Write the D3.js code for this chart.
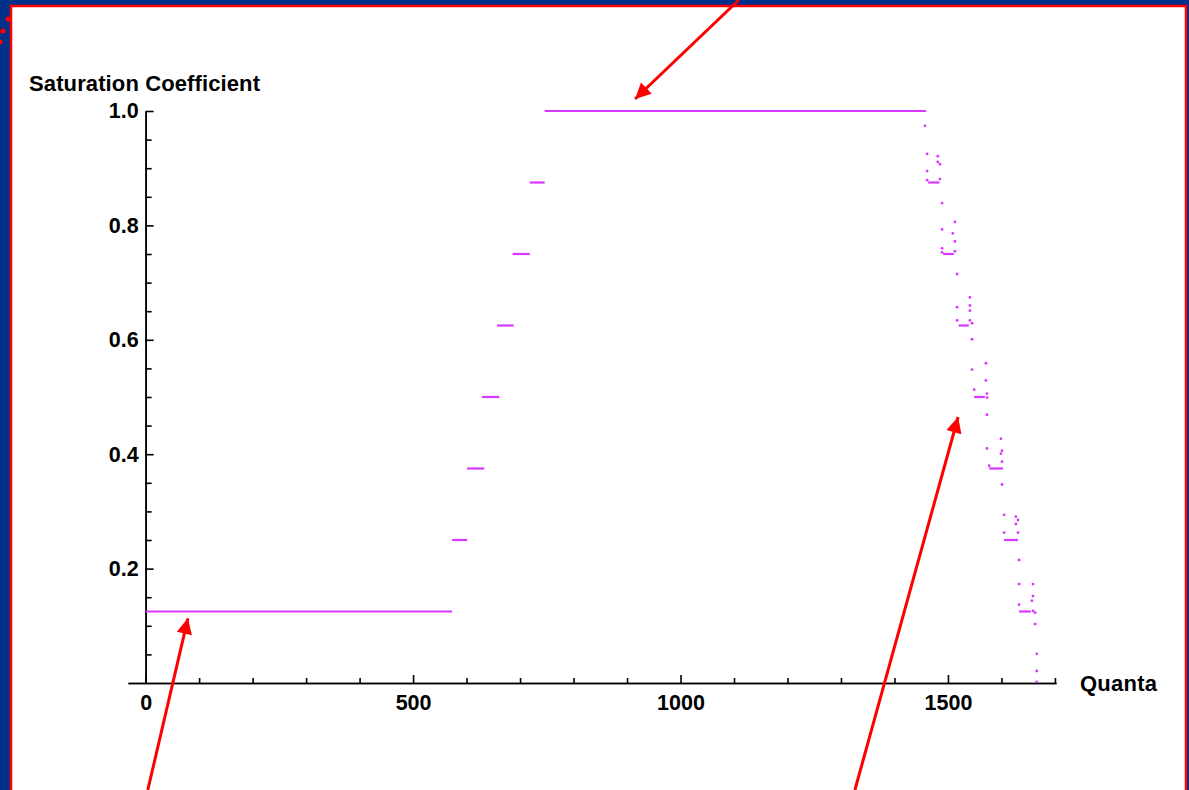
<!DOCTYPE html>
<html>
<head>
<meta charset="utf-8">
<script src="https://cdn.jsdelivr.net/npm/d3@7"></script>
<style>
  html, body { margin: 0; padding: 0; background: #00308a; overflow: hidden; }
  text { font-family: "Liberation Sans", Arial, sans-serif; font-weight: bold; }
</style>
</head>
<body>
<div id="chart"></div>
<script>
// step levels of the rising part (plotted as flat runs)
var stepLevels = [0.125, 0.25, 0.375, 0.5, 0.625, 0.75, 0.875, 1.0];
var stepStart  = [0, 573, 601, 629, 657, 686, 718, 746];
var stepEnd    = [573, 601, 633, 661, 688, 718, 746, 1459];

// short runs in the falling part
var fallLevels = [0.875, 0.75, 0.625, 0.5, 0.375, 0.25, 0.125];
var fallStart  = [1463, 1491, 1520, 1549, 1577, 1605, 1633];
var fallEnd    = [1484, 1511, 1539, 1569, 1603, 1631, 1655];

// scattered points of the falling part
var dotX = [1457, 1461, 1481, 1481, 1485, 1461, 1461, 1485, 1489, 1513, 1489, 1509, 1513, 1489, 1489, 1513,
            1517, 1541, 1517, 1541, 1541, 1517, 1541, 1545, 1545, 1571, 1545, 1571, 1549, 1573, 1573, 1573,
            1599, 1573, 1601, 1599, 1601, 1577, 1601, 1605, 1627, 1631, 1627, 1605, 1631, 1633, 1633, 1659,
            1659, 1657, 1633, 1659, 1663, 1663, 1666, 1666, 1666];
var dotY = [0.974, 0.925, 0.921, 0.911, 0.907, 0.895, 0.879, 0.881, 0.839, 0.806, 0.793, 0.786, 0.772, 0.760, 0.753, 0.755,
            0.715, 0.674, 0.657, 0.660, 0.651, 0.634, 0.634, 0.629, 0.601, 0.559, 0.548, 0.529, 0.513, 0.506, 0.499, 0.469,
            0.427, 0.410, 0.406, 0.401, 0.387, 0.380, 0.347, 0.294, 0.291, 0.285, 0.278, 0.263, 0.263, 0.215, 0.173, 0.173,
            0.152, 0.144, 0.137, 0.126, 0.123, 0.103, 0.051, 0.021, 0.002];

var xMajor = [0, 500, 1000, 1500];
var xMinor = [100, 200, 300, 400, 600, 700, 800, 900, 1100, 1200, 1300, 1400, 1600, 1700];
var yMajor = [0.2, 0.4, 0.6, 0.8, 1.0];
var yMinor = [0.05, 0.1, 0.15, 0.25, 0.3, 0.35, 0.45, 0.5, 0.55, 0.65, 0.7, 0.75, 0.85, 0.9, 0.95];

// red annotation arrows, [tailX, tailY, headX, headY] in data units
var arrows = [
  [1109, 1.194, 915, 1.021],
  [4, -0.187, 79, 0.113],
  [1326, -0.187, 1519, 0.465]
];

var W = 1189, H = 790;
var svg = d3.select("#chart").append("svg")
  .attr("width", W)
  .attr("height", H);

// slide panel
svg.append("rect")
  .attr("x", 11).attr("y", 6)
  .attr("width", 1175).attr("height", 820)
  .attr("fill", "white")
  .attr("stroke", "#ff0000")
  .attr("stroke-width", 2.5);
[[8, 19], [3, 31], [0, 42]].forEach(function (p) {
  svg.append("circle").attr("cx", p[0]).attr("cy", p[1]).attr("r", 2.6).attr("fill", "#ff0000");
});

var x = d3.scaleLinear().domain([-33, 1702]).range([128, 1056]);
var y = d3.scaleLinear().domain([0, 1]).range([683, 111]);

var magenta = "#d936ff";

// minor ticks
svg.append("g")
  .attr("transform", "translate(0," + y(0) + ")")
  .call(d3.axisBottom(x).tickValues(xMinor).tickSizeInner(-5).tickSizeOuter(0).tickFormat(""));
svg.append("g")
  .attr("transform", "translate(" + x(0) + ",0)")
  .call(d3.axisLeft(y).tickValues(yMinor).tickSizeInner(-6).tickSizeOuter(0).tickFormat(""));

// major ticks + labels
svg.append("g")
  .attr("class", "xaxis")
  .attr("transform", "translate(0," + y(0) + ")")
  .call(d3.axisBottom(x).tickValues(xMajor).tickSizeInner(-8).tickSizeOuter(0).tickPadding(12).tickFormat(d3.format("d")));
svg.append("g")
  .attr("class", "yaxis")
  .attr("transform", "translate(" + x(0) + ",0)")
  .call(d3.axisLeft(y).tickValues(yMajor).tickSizeInner(-8).tickSizeOuter(0).tickPadding(7).tickFormat(d3.format(".1f")));

svg.selectAll(".domain, .tick line").attr("stroke", "black").attr("stroke-width", 1.6);
svg.selectAll(".tick text").attr("font-size", 21.5).attr("fill", "black")
  .style("font-family", "'Liberation Sans', Arial, sans-serif").style("font-weight", "bold");

// axis titles
svg.append("text")
  .attr("x", 29).attr("y", 83).attr("dy", "0.35em")
  .attr("font-size", 22)
  .attr("textLength", 231)
  .text("Saturation Coefficient");
svg.append("text")
  .attr("x", 1080).attr("y", y(0)).attr("dy", "0.35em")
  .attr("font-size", 22)
  .attr("textLength", 77)
  .text("Quanta");

// flat runs
var runs = [];
stepLevels.forEach(function (v, i) { runs.push({ y: v, x0: stepStart[i], x1: stepEnd[i] }); });
fallLevels.forEach(function (v, i) { runs.push({ y: v, x0: fallStart[i], x1: fallEnd[i] }); });
svg.append("g")
  .selectAll("line")
  .data(runs)
  .join("line")
  .attr("x1", function (d) { return x(d.x0); })
  .attr("x2", function (d) { return x(d.x1); })
  .attr("y1", function (d) { return y(d.y); })
  .attr("y2", function (d) { return y(d.y); })
  .attr("stroke", magenta)
  .attr("stroke-width", 2.2);

// dots
svg.append("g")
  .selectAll("circle")
  .data(dotX.map(function (v, i) { return [v, dotY[i]]; }))
  .join("circle")
  .attr("cx", function (d) { return x(d[0]); })
  .attr("cy", function (d) { return y(d[1]); })
  .attr("r", 1.4)
  .attr("fill", magenta);

// arrows
svg.append("defs").append("marker")
  .attr("id", "head")
  .attr("viewBox", "0 0 10 10")
  .attr("refX", 10).attr("refY", 5)
  .attr("markerWidth", 6).attr("markerHeight", 5.2)
  .attr("markerUnits", "strokeWidth")
  .attr("orient", "auto")
  .append("path")
  .attr("d", "M0,0 L10,5 L0,10 Z")
  .attr("fill", "#ff0000");

svg.append("g")
  .selectAll("line")
  .data(arrows)
  .join("line")
  .attr("x1", function (d) { return x(d[0]); })
  .attr("y1", function (d) { return y(d[1]); })
  .attr("x2", function (d) { return x(d[2]); })
  .attr("y2", function (d) { return y(d[3]); })
  .attr("stroke", "#ff0000")
  .attr("stroke-width", 3)
  .attr("marker-end", "url(#head)");
</script>
</body>
</html>
